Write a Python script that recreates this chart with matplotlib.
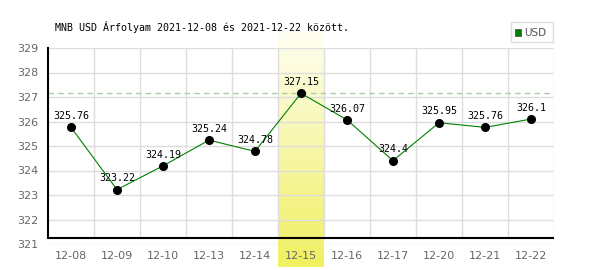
import numpy as np
import matplotlib
matplotlib.use("Agg")
import matplotlib.pyplot as plt
from matplotlib.patches import Rectangle

dates = ["12-08", "12-09", "12-10", "12-13", "12-14", "12-15",
         "12-16", "12-17", "12-20", "12-21", "12-22"]
rates = [325.76, 323.22, 324.19, 325.24, 324.78, 327.15,
         326.07, 324.4, 325.95, 325.76, 326.1]
rate_labels = ["325.76", "323.22", "324.19", "325.24", "324.78", "327.15",
               "326.07", "324.4", "325.95", "325.76", "326.1"]
highlight = "12-15"
title = "MNB USD Árfolyam 2021-12-08 és 2021-12-22 között."

fig = plt.figure(figsize=(6, 2.7), dpi=100)
ax = fig.add_axes([48 / 600, 1 - 244 / 270, 506 / 600, 196 / 270])

x = np.arange(len(dates))
ax.set_xlim(-0.5, len(dates) - 0.5)
ax.set_ylim(321, 329)

# grid
for v in range(321, 330):
    ax.axhline(v, color="#dddddd", lw=1, zorder=1)
for b in np.arange(0.5, len(dates) - 0.5 + 1, 1):
    ax.axvline(b, ymin=0.031, color="#dddddd", lw=1, zorder=1)

# highlighted day band (gradient)
hi = dates.index(highlight)
grad = np.linspace(0, 1, 256).reshape(-1, 1)
cmap = matplotlib.colors.LinearSegmentedColormap.from_list("y", ["#fefef2", "#f0f060"])
ax.imshow(grad, cmap=cmap, aspect="auto", origin="upper",
          extent=[hi - 0.5, hi + 0.5, 320.06, 329.69], clip_on=False, zorder=0.5)

# max dashed line
ax.axhline(max(rates), color="#a8cca8", lw=1, ls=(0, (4, 3)), zorder=2)

# axis lines
ax.axhline(321.25, color="black", lw=1.5, zorder=3)
for s in ["top", "right", "bottom"]:
    ax.spines[s].set_visible(False)
ax.spines["left"].set_bounds(321.25, 329)
ax.spines["left"].set_linewidth(1.5)

ax.plot(x, rates, color="#008000", lw=0.8, zorder=4)
ax.plot(x, rates, "o", color="black", ms=5.5, zorder=5)
for xi, yi, lab in zip(x, rates, rate_labels):
    ax.annotate(lab, (xi, yi), xytext=(0, 4.5), textcoords="offset points",
                ha="center", va="bottom", fontsize=7.2, family="DejaVu Sans Mono",
                color="black", zorder=6)

ax.set_xticks(x)
ax.set_xticklabels(dates)
ax.set_yticks(range(321, 330))
ax.tick_params(axis="both", length=0, colors="#666666", labelsize=8)
ax.tick_params(axis="x", pad=5)
ax.tick_params(axis="y", pad=7)

fig.text(55 / 600, 1 - 27 / 270, title, fontsize=7.2, family="DejaVu Sans Mono",
         ha="left", va="center")

# legend box
fig.patches.append(Rectangle((511 / 600, 1 - 42 / 270), 42 / 600, 20 / 270,
                             transform=fig.transFigure, fill=False,
                             edgecolor="#dddddd", lw=1))
fig.patches.append(Rectangle((515 / 600, 1 - 35.5 / 270), 6 / 600, 6 / 270,
                             transform=fig.transFigure, facecolor="#008000",
                             edgecolor="#444444", lw=0.5))
fig.text(524 / 600, 1 - 32.5 / 270, "USD", fontsize=7.5, color="#555555",
         ha="left", va="center")

fig.savefig("out.png", dpi=100)
